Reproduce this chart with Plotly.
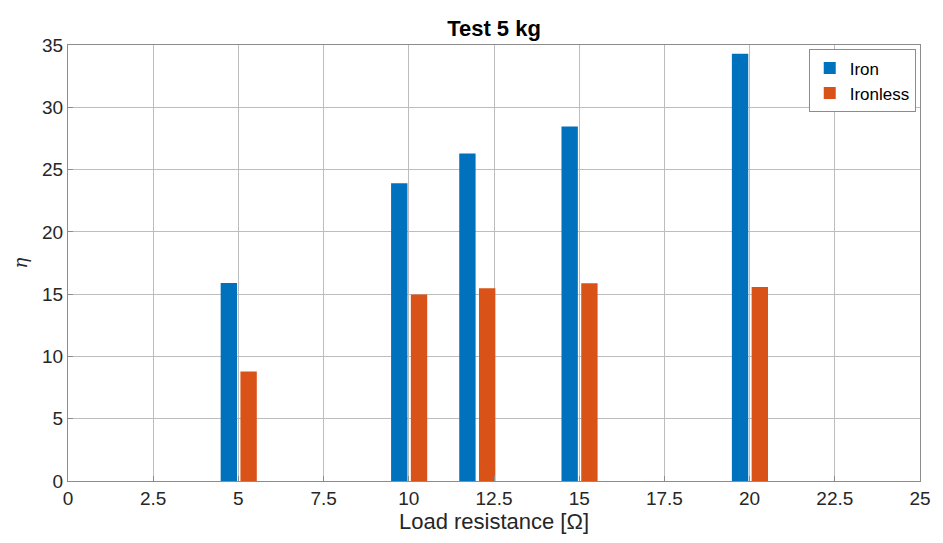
import plotly.graph_objects as go

resistance = [5, 10, 12, 15, 20]
iron = [15.9, 23.9, 26.3, 28.45, 34.3]
ironless = [8.8, 14.97, 15.47, 15.87, 15.57]
x_ticks = [0, 2.5, 5, 7.5, 10, 12.5, 15, 17.5, 20, 22.5, 25]
x_tick_text = ["0", "2.5", "5", "7.5", "10", "12.5", "15", "17.5", "20", "22.5", "25"]
y_ticks = [0, 5, 10, 15, 20, 25, 30, 35]

fig = go.Figure()
fig.add_trace(go.Bar(x=resistance, y=iron, name="Iron", width=0.48, offset=-0.52,
                     marker=dict(color="#0072BD", line=dict(width=0))))
fig.add_trace(go.Bar(x=resistance, y=ironless, name="Ironless", width=0.48, offset=0.06,
                     marker=dict(color="#D95319", line=dict(width=0))))

axis_common = dict(showgrid=True, gridcolor="#bdbdbd", gridwidth=1,
                   showline=True, linecolor="#8c8c8c", linewidth=1, mirror=True,
                   ticks="inside", ticklen=5, tickcolor="#8c8c8c", zeroline=False,
                   tickfont=dict(family="Liberation Sans, Arial", size=19, color="#262626"))

fig.update_layout(
    width=935, height=535,
    margin=dict(l=60, r=13, t=37, b=62),
    paper_bgcolor="white", plot_bgcolor="white",
    barmode="overlay",
    title=dict(text="<b>Test 5 kg</b>", x=0.5, xref="paper", xanchor="center",
               y=0.962, yanchor="middle",
               font=dict(family="Liberation Sans, Arial", size=22, color="black")),
    xaxis=dict(range=[0, 25], tickvals=x_ticks, ticktext=x_tick_text,
               title=dict(text="Load resistance [Ω]", standoff=4,
                          font=dict(family="Liberation Sans, Arial", size=22, color="#262626")),
               **axis_common),
    yaxis=dict(range=[0, 35], tickvals=y_ticks,
               title=dict(text="<i>η</i>", standoff=9,
                          font=dict(family="DejaVu Serif, serif", size=18, color="#262626")),
               **axis_common),
    legend=dict(x=0.995, y=0.99, xanchor="right", yanchor="top",
                bgcolor="white", bordercolor="#8c8c8c", borderwidth=1,
                font=dict(family="Liberation Sans, Arial", size=17, color="black"),
                itemwidth=30, tracegroupgap=0),
)

fig.write_html("out.html")
